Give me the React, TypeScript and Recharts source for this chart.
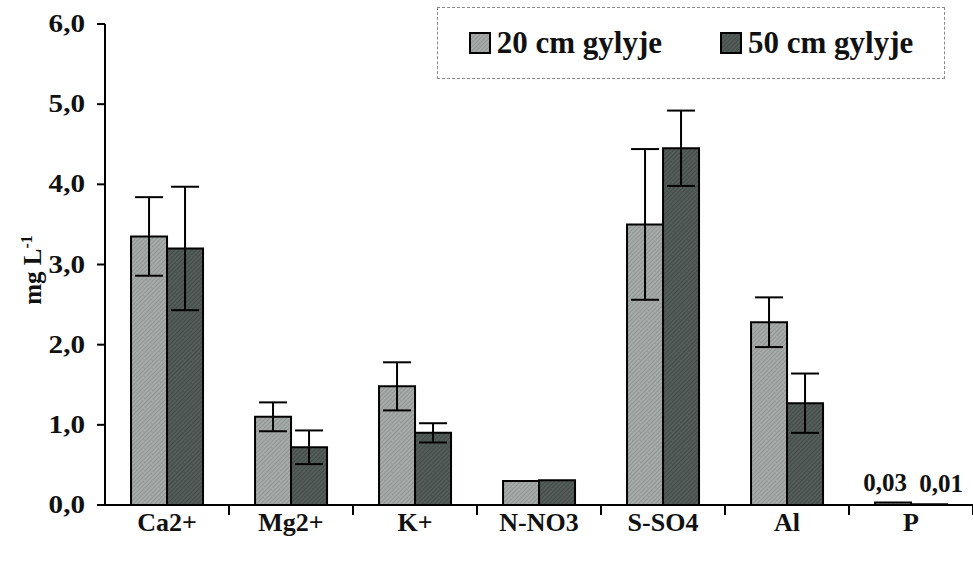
import { BarChart, Bar, XAxis, YAxis, ErrorBar, LabelList } from 'recharts';

const categories = ['Ca2+', 'Mg2+', 'K+', 'N-NO3', 'S-SO4', 'Al', 'P'];
const depth20 = [3.35, 1.1, 1.48, 0.3, 3.5, 2.28, 0.03];
const depth50 = [3.2, 0.72, 0.9, 0.31, 4.45, 1.27, 0.01];
const err20 = [0.49, 0.18, 0.3, 0, 0.94, 0.31, 0];
const err50 = [0.77, 0.21, 0.12, 0, 0.47, 0.37, 0];
const yTicks = [0, 1, 2, 3, 4, 5, 6];
const seriesNames = ['20 cm gylyje', '50 cm gylyje'];
// only the phosphorus bars carry a value label
const labelledCategories = ['P'];

const data = categories.map((name, i) => ({
  name,
  d20: depth20[i],
  d50: depth50[i],
  e20: err20[i],
  e50: err50[i],
}));

const FONT = '"Liberation Serif", "Times New Roman", serif';
const LIGHT = '#a6aaa8';
const DARK = '#535c59';

const WIDTH = 973;
const HEIGHT = 562;
const MARGIN = { top: 24, right: 0, left: 30, bottom: 17 };
const Y_AXIS_WIDTH = 75;
const PLOT_WIDTH = WIDTH - MARGIN.left - Y_AXIS_WIDTH - MARGIN.right;
const BAND = PLOT_WIDTH / categories.length;

const fmt = (v: number) => v.toFixed(1).replace('.', ',');

// category label plus an Excel-style tick between categories
function CategoryTick(props: any) {
  const { x, y, payload } = props;
  return (
    <g>
      <line x1={x + BAND / 2} x2={x + BAND / 2} y1={y - 8} y2={y + 2} stroke="#000" strokeWidth={2} />
      <text x={x} y={y + 18} textAnchor="middle" fontFamily={FONT} fontWeight="bold" fontSize={26} fill="#111">
        {payload.value}
      </text>
    </g>
  );
}

// value ticks, set a little wider than the font draws them
function ValueTick(props: any) {
  const { x, y, payload } = props;
  return (
    <text
      transform={`translate(${x - 10}, ${y + 8}) scale(1.12, 1)`}
      textAnchor="end"
      fontFamily={FONT}
      fontWeight="bold"
      fontSize={26}
      fill="#111"
    >
      {fmt(payload.value)}
    </text>
  );
}

function ValueLabel(props: any) {
  const { x, y, width, value, index, dx = 0 } = props;
  if (!labelledCategories.includes(categories[index])) return null;
  return (
    <text x={x + width / 2 + dx} y={y - 12} textAnchor="middle" fontFamily={FONT} fontWeight="bold" fontSize={25} fill="#111">
      {value.toFixed(2).replace('.', ',')}
    </text>
  );
}

function LegendBox() {
  const item = (label: string, fill: string, pattern: string) => (
    <div style={{ display: 'flex', alignItems: 'center', gap: 6 }}>
      <svg width={22} height={22}>
        <rect x={1} y={1} width={20} height={20} fill={fill} />
        <rect x={1} y={1} width={20} height={20} fill={`url(#${pattern})`} stroke="#000" strokeWidth={2} />
      </svg>
      <span>{label}</span>
    </div>
  );
  return (
    <div
      style={{
        position: 'absolute',
        left: 437,
        top: 7,
        boxSizing: 'border-box',
        width: 508,
        height: 72,
        border: '1px dashed #8a8a8a',
        display: 'flex',
        alignItems: 'center',
        justifyContent: 'center',
        gap: 58,
        fontFamily: FONT,
        fontWeight: 'bold',
        fontSize: 31,
        color: '#111',
      }}
    >
      {item(seriesNames[0], LIGHT, 'hatch20')}
      {item(seriesNames[1], DARK, 'hatch50')}
    </div>
  );
}

export default function App() {
  return (
    <div style={{ position: 'absolute', left: 0, top: 0, width: WIDTH, height: HEIGHT, background: '#fff' }}>
      <BarChart
        width={WIDTH}
        height={HEIGHT}
        data={data}
        margin={MARGIN}
        barCategoryGap="21%"
        barGap={0}
      >
        <defs>
          <pattern id="hatch20" width="3" height="3" patternUnits="userSpaceOnUse" patternTransform="rotate(45)">
            <rect width="3" height="3" fill={LIGHT} />
            <line x1="0" y1="0" x2="0" y2="3" stroke="#7c817f" strokeWidth="1" />
          </pattern>
          <pattern id="hatch50" width="3" height="3" patternUnits="userSpaceOnUse" patternTransform="rotate(45)">
            <rect width="3" height="3" fill={DARK} />
            <line x1="0" y1="0" x2="0" y2="3" stroke="#343b39" strokeWidth="1" />
          </pattern>
        </defs>
        <XAxis
          dataKey="name"
          height={40}
          axisLine={{ stroke: '#000', strokeWidth: 2 }}
          tickLine={false}
          tick={<CategoryTick />}
          interval={0}
        />
        <YAxis
          width={Y_AXIS_WIDTH}
          domain={[0, 6]}
          ticks={yTicks}
          axisLine={{ stroke: '#000', strokeWidth: 2 }}
          tickLine={{ stroke: '#000', strokeWidth: 2 }}
          tickSize={8}
          tick={<ValueTick />}
        />
        <Bar dataKey="d20" name={seriesNames[0]} fill="url(#hatch20)" stroke="#000" strokeWidth={2} isAnimationActive={false}>
          <ErrorBar dataKey="e20" width={14} stroke="#000" strokeWidth={2} />
          <LabelList dataKey="d20" content={<ValueLabel dx={-8} />} />
        </Bar>
        <Bar dataKey="d50" name={seriesNames[1]} fill="url(#hatch50)" stroke="#000" strokeWidth={2} isAnimationActive={false}>
          <ErrorBar dataKey="e50" width={14} stroke="#000" strokeWidth={2} />
          <LabelList dataKey="d50" content={<ValueLabel dx={12} />} />
        </Bar>
      </BarChart>
      <svg style={{ position: 'absolute', left: 0, top: 0 }} width={80} height={HEIGHT}>
        <text x={41} y={270} transform="rotate(-90 41 270)" textAnchor="middle" fontFamily={FONT} fontWeight="bold" fontSize={25} fill="#111">
          mg L<tspan dy={-9} fontSize={16}>-1</tspan>
        </text>
      </svg>
      <LegendBox />
    </div>
  );
}
